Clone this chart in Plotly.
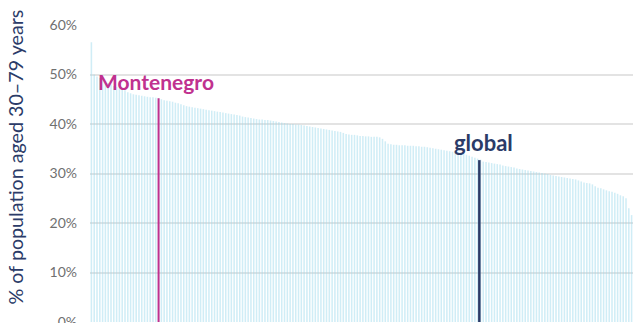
import plotly.graph_objects as go

values = [
    56.5, 50.0, 49.6, 49.3, 48.9, 48.6, 48.3, 48.0, 47.7, 47.5,
    47.2, 47.0, 46.8, 46.4, 46.2, 46.0, 45.9, 45.8, 45.7, 45.6,
    45.5, 45.4, 45.4, 45.3, 45.2, 45.0, 44.8, 44.7, 44.6, 44.5,
    44.3, 44.2, 44.0, 43.8, 43.6, 43.5, 43.4, 43.3, 43.2, 43.1,
    43.0, 42.9, 42.8, 42.7, 42.6, 42.5, 42.4, 42.3, 42.2, 42.1,
    42.0, 41.9, 41.8, 41.7, 41.5, 41.4, 41.3, 41.2, 41.1, 41.0,
    40.9, 40.9, 40.8, 40.8, 40.7, 40.6, 40.5, 40.4, 40.3, 40.2,
    40.1, 40.0, 40.0, 39.9, 39.9, 39.8, 39.7, 39.6, 39.5, 39.4,
    39.3, 39.2, 39.1, 39.0, 38.9, 38.8, 38.7, 38.6, 38.5, 38.4,
    38.2, 38.0, 37.9, 37.8, 37.8, 37.7, 37.6, 37.6, 37.5, 37.5,
    37.4, 37.4, 37.4, 37.3, 37.0, 36.5, 36.0, 35.9, 35.8, 35.8,
    35.7, 35.7, 35.7, 35.6, 35.6, 35.6, 35.5, 35.5, 35.4, 35.4,
    35.3, 35.2, 35.1, 35.0, 34.9, 34.8, 34.7, 34.6, 34.5, 34.4,
    34.3, 34.2, 34.1, 34.0, 33.8, 33.6, 33.4, 33.2, 33.0, 32.8,
    32.4, 32.3, 32.2, 32.1, 32.0, 31.9, 31.8, 31.6, 31.5, 31.4,
    31.3, 31.2, 31.0, 30.9, 30.8, 30.7, 30.6, 30.5, 30.4, 30.3,
    30.2, 30.1, 30.0, 29.9, 29.7, 29.6, 29.5, 29.4, 29.3, 29.2,
    29.1, 29.0, 28.9, 28.8, 28.6, 28.4, 28.2, 28.1, 28.0, 27.8,
    27.4, 27.1, 27.0, 26.8, 26.6, 26.4, 26.3, 26.1, 25.9, 25.6,
    25.4, 25.0, 23.0, 21.6,
]
positions = list(range(len(values)))

highlight_name = "Montenegro"
highlight_index = 24
highlight_value = 45.2

global_name = "global"
global_position = 138.6
global_value = 32.7

y_ticks = [0, 10, 20, 30, 40, 50, 60]
y_tick_labels = ["0%", "10%", "20%", "30%", "40%", "50%", "60%"]
y_title = "% of population aged 30–79 years"

FONT = "Lato"
MAGENTA = "#c0318f"
NAVY = "#2b3b68"

fig = go.Figure()
fig.add_trace(go.Bar(x=positions, y=values, marker=dict(color="rgba(150,215,235,0.45)", line=dict(width=0)),
                     hoverinfo="skip", showlegend=False))
fig.add_trace(go.Scatter(x=[highlight_index, highlight_index], y=[0, highlight_value], mode="lines",
                         line=dict(color=MAGENTA, width=2), showlegend=False, hoverinfo="skip"))
fig.add_trace(go.Scatter(x=[global_position, global_position], y=[0, global_value], mode="lines",
                         line=dict(color=NAVY, width=2.5), showlegend=False, hoverinfo="skip"))

fig.add_annotation(x=highlight_index, y=highlight_value, text="<b>" + highlight_name + "</b>",
                   showarrow=False, yanchor="bottom", yshift=2, xshift=-3,
                   font=dict(family=FONT, size=21, color=MAGENTA))
fig.add_annotation(x=global_position, y=global_value, text="<b>" + global_name + "</b>",
                   showarrow=False, yanchor="bottom", yshift=2, xshift=4,
                   font=dict(family=FONT, size=22, color=NAVY))
fig.add_annotation(xref="paper", yref="paper", x=-75 / 543, y=0.554, text=y_title, textangle=-90,
                   showarrow=False, xanchor="center", yanchor="middle",
                   font=dict(family=FONT, size=19.7, color=NAVY))

fig.update_layout(
    width=633, height=323,
    margin=dict(l=90, r=0, t=25, b=1, autoexpand=False),
    paper_bgcolor="white", plot_bgcolor="white",
    bargap=0.45,
    font=dict(family=FONT),
)
fig.update_xaxes(range=[-0.5, len(values) - 0.5], showticklabels=False, showgrid=False,
                 zeroline=False, showline=False, automargin=False)
fig.update_yaxes(range=[0, 60], tickvals=y_ticks, ticktext=y_tick_labels, showgrid=True,
                 gridcolor="#e3e3e3", gridwidth=1.5, zeroline=False, ticklabelstandoff=12,
                 ticklabeloverflow="allow", automargin=False,
                 tickfont=dict(family=FONT, size=14, color="#707070"))

fig.write_html("out.html", config={"displayModeBar": False},
               post_script="document.body.style.margin='0';document.body.style.overflow='hidden';")
